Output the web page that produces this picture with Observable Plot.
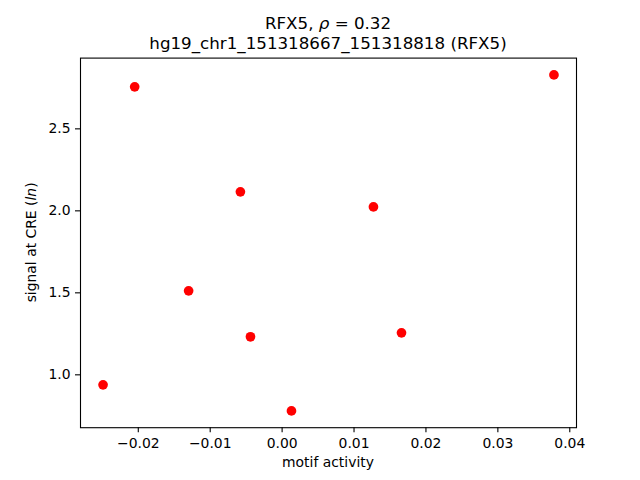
<!DOCTYPE html>
<html>
<head>
<meta charset="utf-8">
<script src="https://cdn.jsdelivr.net/npm/d3@7"></script>
<script src="https://cdn.jsdelivr.net/npm/@observablehq/plot@0.6"></script>
<style>
  html, body { margin: 0; padding: 0; background: #fff; }
</style>
</head>
<body>
<div id="chart"></div>
<script>
// Data
const motifActivity = [-0.0249, -0.0205, -0.0130, -0.0058, -0.0044, 0.0013, 0.0127, 0.0166, 0.0378];
const signal = [0.939, 2.756, 1.512, 2.116, 1.232, 0.780, 2.024, 1.256, 2.829];
const xTicks = [-0.02, -0.01, 0.00, 0.01, 0.02, 0.03, 0.04];
const yTicks = [1.0, 1.5, 2.0, 2.5];
const titleLine1 = [["RFX5, ", "normal"], ["ρ", "italic"], [" = 0.32", "normal"]];
const titleLine2 = "hg19_chr1_151318667_151318818 (RFX5)";
const xLabel = "motif activity";
const yLabel = [["signal at CRE (", "normal"], ["ln", "italic"], [")", "normal"]];

const points = motifActivity.map((x, i) => ({x, y: signal[i]}));

function padded(values) {
  const [lo, hi] = d3.extent(values);
  const m = (hi - lo) * 0.05;
  return [lo - m, hi + m];
}

const W = 640, H = 480;
const mL = 80, mR = 64, mT = 57.6, mB = 52.8;

const plot = Plot.plot({
  width: W,
  height: H,
  marginLeft: mL,
  marginRight: mR,
  marginTop: mT,
  marginBottom: mB,
  style: {fontFamily: "DejaVu Sans", fontSize: "13.9px", color: "black", background: "white"},
  x: {domain: padded(motifActivity), ticks: xTicks, tickFormat: d3.format(".2f"), tickSize: 5, tickPadding: 5, label: null},
  y: {domain: padded(signal), ticks: yTicks, tickFormat: d3.format(".1f"), tickSize: 5, tickPadding: 5, label: null},
  marks: [
    Plot.dot(points, {x: "x", y: "y", r: 4.85, fill: "#ff0000", stroke: "none"}),
    Plot.frame({stroke: "black", strokeWidth: 1.1})
  ]
});

document.getElementById("chart").appendChild(plot);

const svg = d3.select(plot);
svg.selectAll("[aria-label='x-axis tick'], [aria-label='y-axis tick']").attr("stroke-width", 1.1);

const cx = mL + (W - mL - mR) / 2;
const cy = mT + (H - mT - mB) / 2;

// Draws a run of separately styled pieces, centered at (0,0) inside group g, as separate text elements
function richText(g, parts, size) {
  const els = parts.map(([s, style]) => g.append("text")
    .attr("font-family", "DejaVu Sans").attr("font-size", size).attr("fill", "black")
    .attr("text-anchor", "start")
    .attr("font-style", style).attr("xml:space", "preserve").style("white-space", "pre")
    .text(s));
  const widths = els.map(e => e.node().getComputedTextLength());
  const total = d3.sum(widths);
  let x = -total / 2;
  els.forEach((e, i) => { e.attr("x", x).attr("y", 0); x += widths[i]; });
}

// Title line 1
richText(svg.append("g").attr("transform", `translate(${cx},29)`), titleLine1, "16.7px");

// Title line 2
svg.append("text")
  .attr("x", cx).attr("y", 48.6)
  .attr("text-anchor", "middle")
  .attr("font-family", "DejaVu Sans").attr("font-size", "16.7px").attr("fill", "black")
  .text(titleLine2);

// X label
svg.append("text")
  .attr("x", cx).attr("y", 467)
  .attr("text-anchor", "middle")
  .attr("font-family", "DejaVu Sans").attr("font-size", "13.9px").attr("fill", "black")
  .text(xLabel);

// Y label
richText(svg.append("g").attr("transform", `translate(36,${cy}) rotate(-90)`), yLabel, "13.9px");
</script>
</body>
</html>
